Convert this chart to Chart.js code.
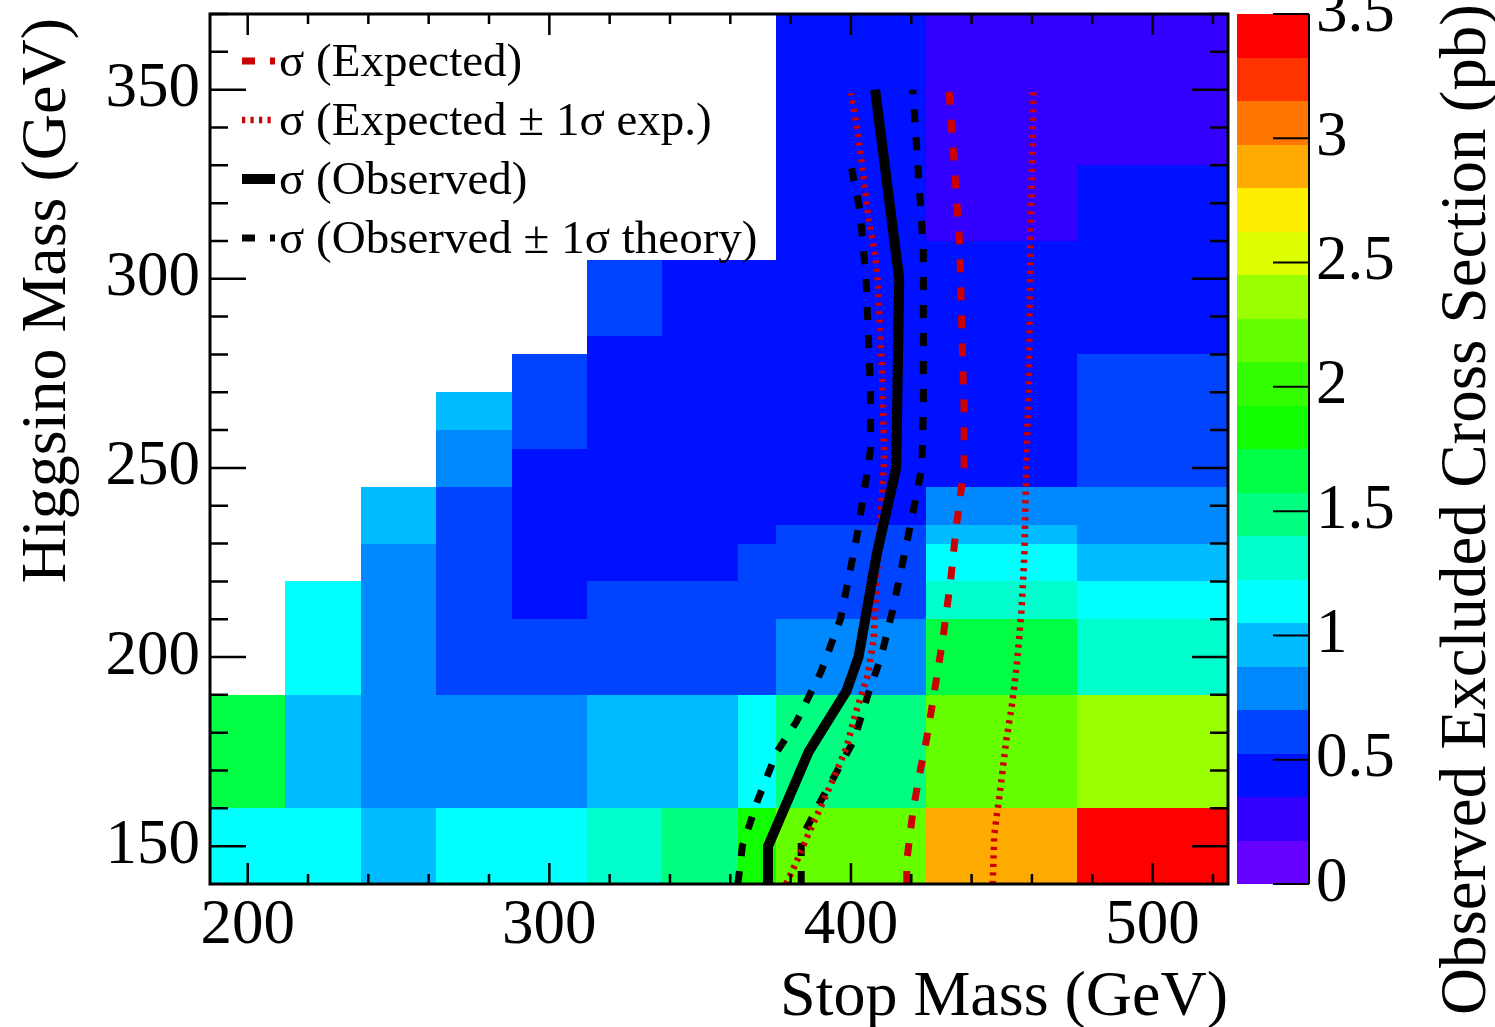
<!DOCTYPE html>
<html>
<head>
<meta charset="utf-8">
<script src="https://cdn.jsdelivr.net/npm/chart.js@4.4.0/dist/chart.umd.min.js"></script>
<style>
  body { margin: 0; background: #fff; }
  canvas { display: block; }
</style>
</head>
<body>
<canvas id="limitChart" width="1495" height="1027"></canvas>
<script>
// Bin edges of the scan (GeV)
const stopEdges = [187.5, 212.5, 237.5, 262.5, 287.5, 312.5, 337.5, 362.5, 375, 425, 475, 525]
const higgsinoEdges = [140, 160, 190, 210, 220, 230, 235, 245, 255, 260, 270, 280, 285, 305, 310, 330, 370]

// Observed excluded cross section (pb), one row per higgsino bin (bottom to top), one column per stop bin
const xsec = [
  [1.14, 1.14, 0.96, 1.14, 1.14, 1.31, 1.49, 1.84, 2.19, 2.89, 3.41],
  [1.66, 0.96, 0.79, 0.79, 0.79, 0.96, 0.96, 1.14, 1.49, 2.19, 2.36],
  [null, 1.14, 0.79, 0.61, 0.61, 0.61, 0.61, 0.61, 0.79, 1.66, 1.31],
  [null, 1.14, 0.79, 0.61, 0.44, 0.61, 0.61, 0.61, 0.61, 1.31, 1.14],
  [null, null, 0.79, 0.61, 0.44, 0.44, 0.44, 0.61, 0.61, 1.14, 0.96],
  [null, null, 0.96, 0.61, 0.44, 0.44, 0.44, 0.44, 0.61, 0.96, 0.79],
  [null, null, 0.96, 0.61, 0.44, 0.44, 0.44, 0.44, 0.44, 0.79, 0.79],
  [null, null, null, 0.79, 0.44, 0.44, 0.44, 0.44, 0.44, 0.44, 0.61],
  [null, null, null, 0.79, 0.61, 0.44, 0.44, 0.44, 0.44, 0.44, 0.61],
  [null, null, null, 0.96, 0.61, 0.44, 0.44, 0.44, 0.44, 0.44, 0.61],
  [null, null, null, null, 0.61, 0.44, 0.44, 0.44, 0.44, 0.44, 0.61],
  [null, null, null, null, null, 0.44, 0.44, 0.44, 0.44, 0.44, 0.44],
  [null, null, null, null, null, 0.61, 0.44, 0.44, 0.44, 0.44, 0.44],
  [null, null, null, null, null, null, null, null, 0.44, 0.44, 0.44],
  [null, null, null, null, null, null, null, null, 0.44, 0.26, 0.44],
  [null, null, null, null, null, null, null, null, 0.44, 0.26, 0.26],
]

// Limit contours (stop mass, higgsino mass)
const expectedStop = [418.5, 418.5, 420.5, 422.5, 425, 427.5, 430.5, 433, 435, 437.5, 437.5, 436, 432.5]
const expectedHiggsino = [140, 146, 159, 168, 178, 190, 205, 220, 235, 250, 265, 310, 350]

const expUpStop = [447, 447.5, 449.5, 451.5, 453.5, 455, 456.5, 457.5, 458, 459, 459.5, 460.5]
const expUpHiggsino = [140, 153, 165, 178, 188, 198, 212, 227, 247, 273, 309, 350]

const expDownStop = [378.5, 382, 385.5, 389.5, 394, 398.5, 401.5, 405.5, 407.5, 408.5, 409.5, 411, 410.5, 409, 408, 406, 403.5, 402, 400]
const expDownHiggsino = [140, 146, 152.5, 159.5, 167.5, 176, 185, 195, 204.5, 220, 233.5, 252, 272, 298, 306.5, 315, 331, 340, 349]

const observedStop = [372.5, 372.5, 386, 398.5, 402.5, 408.5, 415, 416, 408]
const observedHiggsino = [140, 150, 175, 191, 200, 227, 250, 300, 350]

const obsHighStop = [383.5, 383.5, 390, 401, 406, 410, 414, 420, 423.5, 424, 424, 420.5]
const obsHighHiggsino = [140, 152, 162, 178, 191, 200, 213, 236, 250, 265, 308, 350]

const obsLowStop = [362.5, 364, 369, 375.5, 382, 390, 396.5, 402, 405, 406.5, 406.5, 405, 403, 400]
const obsLowHiggsino = [140, 150, 162, 175, 183, 196, 210, 232, 247, 255, 270, 300, 318, 330]

const zMax = 3.5
const palette = [
  "#6600ff", "#3300ff", "#0011ff", "#0044ff", "#0088ff", "#00bbff", "#00ffff", "#00ffcc", "#00ff80", "#00ff44",
  "#11ff00", "#33ff00", "#66ff00", "#99ff00", "#ddff00", "#ffee00", "#ffaa00", "#ff7700", "#ff3300", "#ff0000",
]

const serif = "'Liberation Serif', 'DejaVu Serif', serif"
const red = "#cc0000"

const toPoints = (xs, ys) => xs.map((x, i) => ({ x, y: ys[i] }))

function colorFor(v) {
  const k = Math.min(palette.length - 1, Math.floor((v / zMax) * palette.length))
  return palette[Math.max(0, k)]
}

// white page behind everything
const background = {
  id: "background",
  beforeDraw(chart) {
    const { ctx, width, height } = chart
    ctx.save()
    ctx.fillStyle = "#fff"
    ctx.fillRect(0, 0, width, height)
    ctx.restore()
  },
}

// 2D histogram cells + colour bar
const heatmap = {
  id: "heatmap",
  beforeDatasetsDraw(chart) {
    const { ctx, scales } = chart
    const { x, y, z } = scales
    ctx.save()
    for (let r = 0; r < higgsinoEdges.length - 1; r++) {
      for (let c = 0; c < stopEdges.length - 1; c++) {
        const v = xsec[r][c]
        if (v == null) continue
        const x0 = Math.round(x.getPixelForValue(stopEdges[c]))
        const x1 = Math.round(x.getPixelForValue(stopEdges[c + 1]))
        const y0 = Math.round(y.getPixelForValue(higgsinoEdges[r + 1]))
        const y1 = Math.round(y.getPixelForValue(higgsinoEdges[r]))
        ctx.fillStyle = colorFor(v)
        ctx.fillRect(x0, y0, x1 - x0, y1 - y0)
      }
    }

    // colour bar
    const barLeft = 1237
    const barRight = 1309
    const step = zMax / palette.length
    palette.forEach((col, k) => {
      const top = Math.round(z.getPixelForValue((k + 1) * step))
      const bottom = Math.round(z.getPixelForValue(k * step))
      ctx.fillStyle = col
      ctx.fillRect(barLeft, top, barRight - barLeft, bottom - top)
    })
    ctx.strokeStyle = "#000"
    ctx.lineWidth = 2
    ctx.beginPath()
    ctx.moveTo(barRight, z.top)
    ctx.lineTo(barRight, z.bottom)
    ctx.stroke()
    z.ticks.forEach((t) => {
      const py = z.getPixelForValue(t.value)
      ctx.beginPath()
      ctx.moveTo(barRight, py)
      ctx.lineTo(barRight - 36, py)
      ctx.stroke()
    })
    ctx.restore()
  },
}

// ROOT style frame with inward ticks on all four sides, titles and legend
const frame = {
  id: "frame",
  afterDatasetsDraw(chart) {
    const { ctx, chartArea, scales } = chart
    const { x, y } = scales
    const { left, right, top, bottom } = chartArea
    ctx.save()
    ctx.strokeStyle = "#000"
    ctx.lineWidth = 2.5
    for (let v = 200; v <= x.max; v += 20) {
      const px = x.getPixelForValue(v)
      const len = v % 100 === 0 ? 21 : 10
      ctx.beginPath()
      ctx.moveTo(px, bottom)
      ctx.lineTo(px, bottom - len)
      ctx.moveTo(px, top)
      ctx.lineTo(px, top + len)
      ctx.stroke()
    }
    for (let v = 150; v <= y.max; v += 10) {
      const py = y.getPixelForValue(v)
      const len = v % 50 === 0 ? 36 : 18
      ctx.beginPath()
      ctx.moveTo(left, py)
      ctx.lineTo(left + len, py)
      ctx.moveTo(right, py)
      ctx.lineTo(right - len, py)
      ctx.stroke()
    }
    ctx.lineWidth = 3
    ctx.strokeRect(left, top, right - left, bottom - top)
    ctx.restore()
  },
  afterDraw(chart) {
    const { ctx, chartArea } = chart
    ctx.save()
    ctx.fillStyle = "#000"
    ctx.font = "64px " + serif
    ctx.textBaseline = "alphabetic"

    // x title
    ctx.textAlign = "right"
    ctx.fillText("Stop Mass (GeV)", chartArea.right, 1015)

    // y title
    ctx.save()
    ctx.translate(65, chartArea.top + 4)
    ctx.rotate(-Math.PI / 2)
    ctx.fillText("Higgsino Mass (GeV)", 0, 0)
    ctx.restore()

    // colour bar title
    ctx.save()
    ctx.font = "65px " + serif
    ctx.translate(1485, 4)
    ctx.rotate(-Math.PI / 2)
    ctx.fillText("Observed Excluded Cross Section (pb)", 0, 0)
    ctx.restore()

    // legend, one entry per distinct label
    ctx.font = "47px " + serif
    ctx.textAlign = "left"
    const seen = new Set()
    let row = 0
    chart.data.datasets.forEach((ds) => {
      if (seen.has(ds.label)) return
      seen.add(ds.label)
      const yc = 61 + row * 59
      ctx.save()
      ctx.strokeStyle = ds.borderColor
      ctx.lineWidth = ds.borderWidth
      ctx.setLineDash(ds.borderDash || [])
      ctx.beginPath()
      ctx.moveTo(242, yc)
      ctx.lineTo(275, yc)
      ctx.stroke()
      ctx.restore()
      ctx.fillText(ds.label, 279, yc + 15)
      row++
    })
    ctx.restore()
  },
}

const lineDefaults = { showLine: true, pointRadius: 0, fill: false, tension: 0 }

const datasets = [
  { ...lineDefaults, label: "σ (Expected)", data: toPoints(expectedStop, expectedHiggsino),
    borderColor: red, borderWidth: 7, borderDash: [13, 15], order: 2 },
  { ...lineDefaults, label: "σ (Expected ± 1σ exp.)", data: toPoints(expUpStop, expUpHiggsino),
    borderColor: red, borderWidth: 6.5, borderDash: [3.2, 5.3], order: 3 },
  { ...lineDefaults, label: "σ (Expected ± 1σ exp.)", data: toPoints(expDownStop, expDownHiggsino),
    borderColor: red, borderWidth: 6.5, borderDash: [3.2, 5.3], order: 3 },
  { ...lineDefaults, label: "σ (Observed)", data: toPoints(observedStop, observedHiggsino),
    borderColor: "#000", borderWidth: 10, order: 1 },
  { ...lineDefaults, label: "σ (Observed ± 1σ theory)", data: toPoints(obsHighStop, obsHighHiggsino),
    borderColor: "#000", borderWidth: 7, borderDash: [13, 15], order: 4 },
  { ...lineDefaults, label: "σ (Observed ± 1σ theory)", data: toPoints(obsLowStop, obsLowHiggsino),
    borderColor: "#000", borderWidth: 7, borderDash: [13, 15], order: 4 },
]

const tickFont = { family: serif, size: 63 }
const noPad = (s) => {
  s.paddingTop = 0
  s.paddingBottom = 0
  s.paddingLeft = 0
  s.paddingRight = 0
}

new Chart(document.getElementById("limitChart"), {
  type: "scatter",
  data: { datasets },
  options: {
    responsive: false,
    animation: false,
    devicePixelRatio: 1,
    events: [],
    layout: { padding: { top: 14, left: 0, right: 0, bottom: 0 } },
    plugins: {
      legend: { display: false },
      tooltip: { enabled: false },
    },
    scales: {
      x: {
        type: "linear",
        position: "bottom",
        min: 187.5,
        max: 525,
        grid: { display: false, drawTicks: false },
        border: { display: false },
        ticks: { stepSize: 100, includeBounds: false, autoSkip: false, maxRotation: 0, padding: 5, color: "#000", font: tickFont },
        afterFit: (s) => { s.height = 143; noPad(s) },
      },
      y: {
        type: "linear",
        position: "left",
        min: 140,
        max: 370,
        grid: { display: false, drawTicks: false },
        border: { display: false },
        ticks: { stepSize: 50, includeBounds: false, autoSkip: false, padding: 10, color: "#000", font: tickFont },
        afterFit: (s) => { s.width = 210; noPad(s) },
      },
      z: {
        type: "linear",
        position: "right",
        min: 0,
        max: zMax,
        grid: { display: false, drawTicks: false },
        border: { display: false },
        ticks: { stepSize: 0.5, autoSkip: false, padding: 88, color: "#000", font: tickFont, callback: (v) => String(+v.toFixed(1)) },
        afterFit: (s) => { s.width = 267; noPad(s) },
      },
    },
  },
  plugins: [background, heatmap, frame],
})
</script>
</body>
</html>
